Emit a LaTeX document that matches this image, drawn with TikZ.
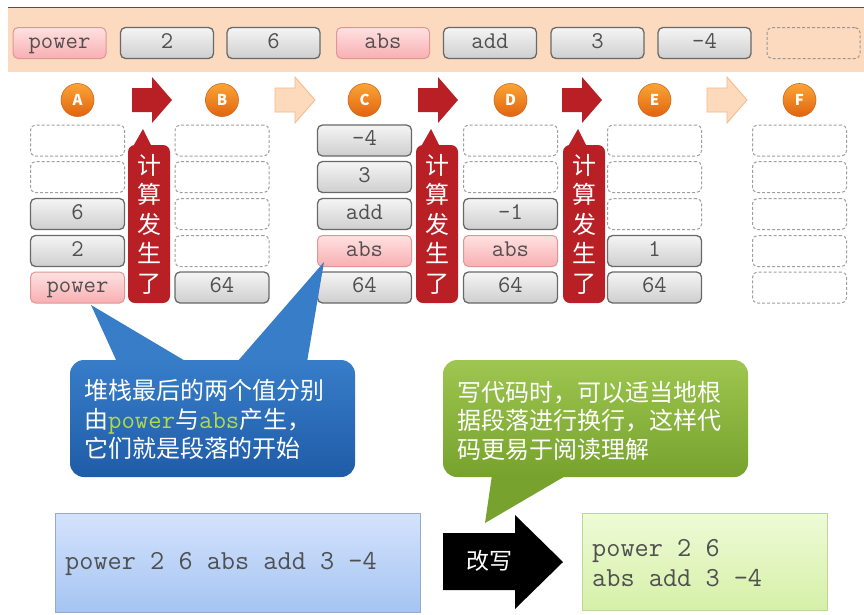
\documentclass[tikz,border=0pt]{standalone}
\usepackage{fontspec}
\newfontfamily\cjk{Noto Sans CJK SC}
\definecolor{band}{RGB}{251,218,192}
\definecolor{bandline}{RGB}{90,80,75}
\definecolor{celltext}{RGB}{80,80,80}
\definecolor{grayedge}{RGB}{105,105,105}
\definecolor{pinkedge}{RGB}{225,150,150}
\definecolor{pinktop}{RGB}{255,225,225}
\definecolor{pinkbot}{RGB}{248,175,178}
\definecolor{orangetop}{RGB}{250,165,55}
\definecolor{orangebot}{RGB}{225,100,15}
\definecolor{orangeedge}{RGB}{205,105,30}
\definecolor{redarr}{RGB}{185,32,38}
\definecolor{lightarr}{RGB}{253,218,188}
\definecolor{lightarredge}{RGB}{243,185,135}
\definecolor{bluetop}{RGB}{55,125,200}
\definecolor{bluebot}{RGB}{32,92,168}
\definecolor{greentop}{RGB}{158,198,80}
\definecolor{greenbot}{RGB}{118,162,45}
\definecolor{codegreen}{RGB}{175,220,65}
\definecolor{lboxtop}{RGB}{212,227,252}
\definecolor{lboxbot}{RGB}{165,196,242}
\definecolor{lboxedge}{RGB}{150,170,205}
\definecolor{rboxtop}{RGB}{238,251,215}
\definecolor{rboxbot}{RGB}{214,240,168}
\definecolor{rboxedge}{RGB}{190,215,150}
\begin{document}
\begin{tikzpicture}[x=1pt,y=-1pt,
  cellbase/.style={rounded corners=5pt, minimum width=94pt, minimum height=31pt, inner sep=0pt,
    font=\ttfamily\fontsize{24}{26}\selectfont, text=celltext, text height=15pt, text depth=5pt},
  gcell/.style={cellbase, draw=grayedge, line width=1.3pt, top color=gray!8, bottom color=gray!38},
  pcell/.style={cellbase, draw=pinkedge, line width=1pt, top color=pinktop, bottom color=pinkbot},
  ecell/.style={cellbase, draw=gray!75, line width=1pt, densely dashed, fill=white},
  tcell/.style={cellbase, draw=gray!75!band, line width=1pt, densely dashed},
  stepball/.style={circle, minimum size=33pt, inner sep=0pt, draw=orangeedge, line width=0.6pt,
    top color=orangetop, bottom color=orangebot, text=white, font=\cjk\bfseries\fontsize{15}{15}\selectfont},
  banner/.style={fill=redarr, rounded corners=7pt, minimum width=42pt, minimum height=158pt, inner sep=0pt,
    align=center, text=white, font=\cjk\fontsize{24}{29.5}\selectfont},
  calltext/.style={anchor=base west, inner sep=0pt, text=white, font=\cjk\fontsize{24}{28}\selectfont},
  codetext/.style={anchor=base west, inner sep=0pt, text=celltext, font=\ttfamily\fontsize{27.5}{30}\selectfont},
  pics/fatarrow/.style={code={\path[pic actions] (0,-12) -- (20,-12) -- (20,-23) -- (40,0) -- (20,23) -- (20,12) -- (0,12) -- cycle;}}
]
\useasboundingbox (0,0) rectangle (864,614);
\fill[white] (0,0) rectangle (864,614);
% top band
\fill[band] (8,8) rectangle (864,72);
\draw[bandline, line width=1.5pt] (8,7.5) -- (864,7.5);
\node[pcell, minimum width=93pt] (t1) at (59.5,43) {power};
\node[gcell, minimum width=93pt] (t2) at (167,43) {2};
\node[gcell, minimum width=93pt] (t3) at (273.5,43) {6};
\node[pcell, minimum width=93pt] (t4) at (383,43) {abs};
\node[gcell, minimum width=93pt] (t5) at (490,43) {add};
\node[gcell, minimum width=93pt] (t6) at (597.5,43) {3};
\node[gcell, minimum width=93pt] (t7) at (704.5,43) {-4};
\node[tcell, minimum width=93pt] (t8) at (813.5,43) {};
% step balls
\node[stepball] (cA) at (77.5,100) {A};
\node[stepball] (cB) at (222,100) {B};
\node[stepball] (cC) at (364.5,100) {C};
\node[stepball] (cD) at (510.5,100) {D};
\node[stepball] (cE) at (654.5,100) {E};
\node[stepball] (cF) at (799.5,100) {F};
% arrows between steps
\pic[fill=redarr] at (132,100) {fatarrow};
\pic[fill=lightarr, draw=lightarredge, line width=0.8pt] at (275,100) {fatarrow};
\pic[fill=redarr] at (418,100) {fatarrow};
\pic[fill=redarr] at (562,100) {fatarrow};
\pic[fill=lightarr, draw=lightarredge, line width=0.8pt] at (707,100) {fatarrow};
% column A
\node[ecell] (a1) at (77.5,140.5) {};
\node[ecell] (a2) at (77.5,177) {};
\node[gcell] (a3) at (77.5,214) {6};
\node[gcell] (a4) at (77.5,251) {2};
\node[pcell] (a5) at (77.5,287.5) {power};
% column B
\node[ecell] (b1) at (222,140.5) {};
\node[ecell] (b2) at (222,177) {};
\node[ecell] (b3) at (222,214) {};
\node[ecell] (b4) at (222,251) {};
\node[gcell] (b5) at (222,287.5) {64};
% column C
\node[gcell] (c1) at (364.5,140.5) {-4};
\node[gcell] (c2) at (364.5,177) {3};
\node[gcell] (c3) at (364.5,214) {add};
\node[pcell] (c4) at (364.5,251) {abs};
\node[gcell] (c5) at (364.5,287.5) {64};
% column D
\node[ecell] (d1) at (510.5,140.5) {};
\node[ecell] (d2) at (510.5,177) {};
\node[gcell] (d3) at (510.5,214) {-1};
\node[pcell] (d4) at (510.5,251) {abs};
\node[gcell] (d5) at (510.5,287.5) {64};
% column E
\node[ecell] (e1) at (654.5,140.5) {};
\node[ecell] (e2) at (654.5,177) {};
\node[ecell] (e3) at (654.5,214) {};
\node[gcell] (e4) at (654.5,251) {1};
\node[gcell] (e5) at (654.5,287.5) {64};
% column F
\node[ecell] (f1) at (799.5,140.5) {};
\node[ecell] (f2) at (799.5,177) {};
\node[ecell] (f3) at (799.5,214) {};
\node[ecell] (f4) at (799.5,251) {};
\node[ecell] (f5) at (799.5,287.5) {};
% banners
\node[banner] (k1) at (149,224) {计\\算\\发\\生\\了};
\fill[redarr] (131,150) -- (143,129) -- (152,147) -- cycle;
\node[banner] (k2) at (437,224) {计\\算\\发\\生\\了};
\fill[redarr] (419,150) -- (431,129) -- (440,147) -- cycle;
\node[banner] (k3) at (584,224) {计\\算\\发\\生\\了};
\fill[redarr] (566,150) -- (578,129) -- (587,147) -- cycle;
% blue callout
\shade[top color=bluetop, bottom color=bluebot, rounded corners=14pt] (70,360) rectangle (355,477);
\fill[bluetop] (117,362) -- (91,305) -- (187,362) -- cycle;
\fill[bluetop] (237,362) -- (324,262) -- (307,362) -- cycle;
\node[calltext] (bt1) at (84,399) {堆栈最后的两个值分别};
\node[calltext] (bt2) at (84,428) {由\textcolor{codegreen}{\ttfamily\fontsize{26}{28}\selectfont power}与\textcolor{codegreen}{\ttfamily\fontsize{26}{28}\selectfont abs}产生，};
\node[calltext] (bt3) at (84,457) {它们就是段落的开始};
% green callout
\shade[top color=greentop, bottom color=greenbot, rounded corners=14pt] (443,360) rectangle (748,477);
\fill[greenbot] (492,475) -- (485,523) -- (567,475) -- cycle;
\node[calltext] (gt1) at (457,401) {写代码时，可以适当地根};
\node[calltext] (gt2) at (457,429) {据段落进行换行，这样代};
\node[calltext] (gt3) at (457,458) {码更易于阅读理解};
% bottom boxes
\node[draw=lboxedge, line width=1pt, top color=lboxtop, bottom color=lboxbot, minimum width=365pt, minimum height=99pt, inner sep=0pt] (lb) at (237.5,562.5) {};
\node[codetext] (lbt) at (65,569) {power 2 6 abs add 3 -4};
\node[draw=rboxedge, line width=1pt, top color=rboxtop, bottom color=rboxbot, minimum width=245pt, minimum height=97pt, inner sep=0pt] (rb) at (704.5,561.5) {};
\node[codetext] (rbt1) at (592,556) {power 2 6};
\node[codetext] (rbt2) at (592,586) {abs add 3 -4};
% black arrow
\fill[black] (443,533) -- (515,533) -- (515,515) -- (563,562) -- (515,609) -- (515,590) -- (443,590) -- cycle;
\node[text=white, inner sep=0pt, font=\cjk\fontsize{23}{23}\selectfont] (gx) at (489,561) {改写};
\end{tikzpicture}
\end{document}
